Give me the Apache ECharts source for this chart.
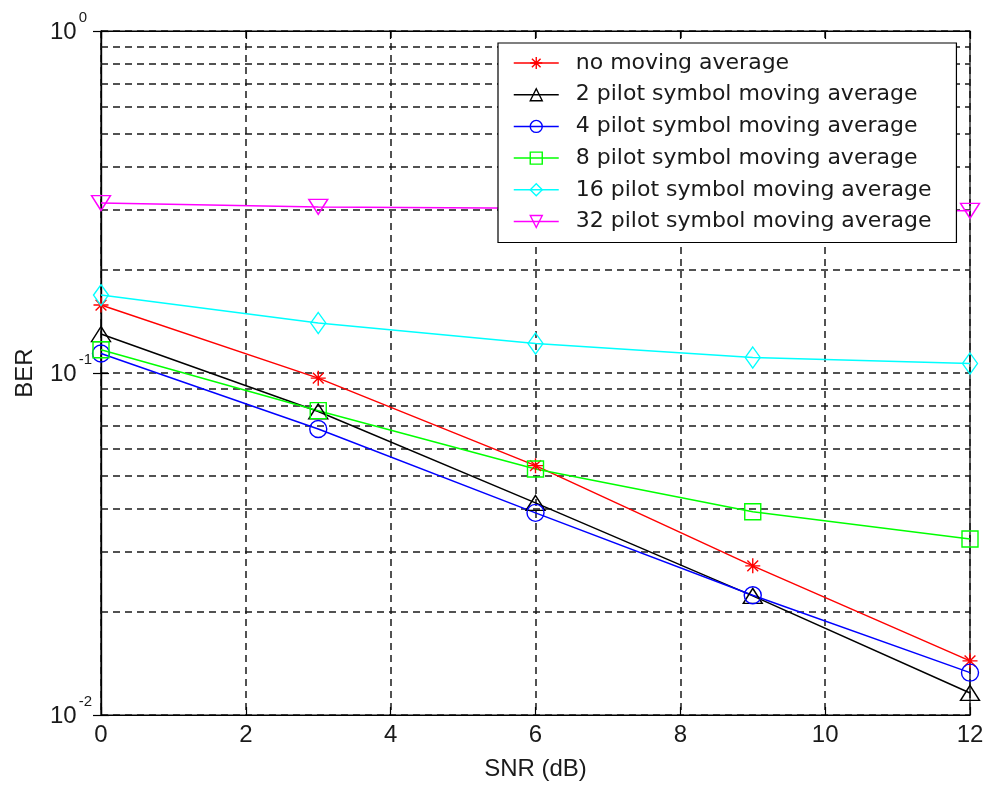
<!DOCTYPE html>
<html>
<head>
<meta charset="utf-8">
<script src="https://cdn.jsdelivr.net/npm/echarts@6/dist/echarts.min.js"></script>
<style>
  html, body { margin: 0; padding: 0; background: #fff; }
  #chart { width: 984px; height: 791px; }
</style>
</head>
<body>
<div id="chart"></div>
<script>
// SNR sample points (dB)
const snr = [0, 3, 6, 9, 12];

// Bit error rate for each channel-estimation variant
const berNoAverage = [0.158, 0.0966, 0.0536, 0.0273, 0.0144];
const berAvg2      = [0.130, 0.0772, 0.0417, 0.0223, 0.0116];
const berAvg4      = [0.114, 0.0686, 0.0390, 0.0224, 0.0133];
const berAvg8      = [0.117, 0.0776, 0.0524, 0.0393, 0.0327];
const berAvg16     = [0.169, 0.140, 0.122, 0.111, 0.1066];
const berAvg32     = [0.314, 0.306, 0.303, 0.300, 0.298];

const seriesNames = [
  'no moving average',
  '2 pilot symbol moving average',
  '4 pilot symbol moving average',
  '8 pilot symbol moving average',
  '16 pilot symbol moving average',
  '32 pilot symbol moving average'
];

// Intermediate decade grid values on the log axis
const minorGridValues = [0.02, 0.03, 0.04, 0.05, 0.06, 0.07, 0.08, 0.09,
                         0.2, 0.3, 0.4, 0.5, 0.6, 0.7, 0.8, 0.9];

const AXIS_FONT = 'Liberation Sans';
const LEGEND_FONT = 'DejaVu Sans';
const gridDash = { type: [7, 5], color: '#1a1a1a', width: 1.5, opacity: 1 };

const starPath = 'path://M0,-1L0,1M-1,0L1,0M-0.72,-0.72L0.72,0.72M-0.72,0.72L0.72,-0.72';
const downTriPath = 'path://M-1,-0.8L1,-0.8L0,0.8Z';

function pairs(ys) { return snr.map((x, i) => [x, ys[i]]); }

function makeSeries(name, ys, color, symbol, size) {
  return {
    name: name,
    type: 'line',
    data: pairs(ys),
    symbol: symbol,
    symbolSize: size,
    showAllSymbol: true,
    clip: false,
    z: 3,
    lineStyle: { color: color, width: 1.5 },
    itemStyle: { color: 'rgba(0,0,0,0)', borderColor: color, borderWidth: 1.4 },
    emphasis: { disabled: true }
  };
}

const chart = echarts.init(document.getElementById('chart'), null, { renderer: 'canvas' });

const option = {
  animation: false,
  backgroundColor: '#fff',
  grid: {
    left: 101, right: 14, top: 31, bottom: 76,
    show: true, borderColor: '#000', borderWidth: 1.2,
    outerBoundsMode: 'none'
  },
  legend: {
    data: seriesNames,
    orient: 'vertical',
    left: 498, top: 43,
    padding: [9, 25, 10, 15],
    itemWidth: 45, itemHeight: 15, itemGap: 9.7,
    backgroundColor: '#fff',
    borderColor: '#000', borderWidth: 1.2,
    itemStyle: { borderWidth: 1.4 },
    lineStyle: { width: 1.5 },
    textStyle: { fontFamily: LEGEND_FONT, fontSize: 22, color: '#1a1a1a', padding: [0, 0, 0, 12] },
    selectedMode: false,
    z: 10
  },
  xAxis: [{
    type: 'value', min: 0, max: 12, interval: 2,
    name: 'SNR (dB)', nameLocation: 'middle', nameGap: 42,
    nameTextStyle: { fontFamily: AXIS_FONT, fontSize: 24, color: '#1a1a1a' },
    axisLine: { show: true, lineStyle: { color: '#000', width: 1.2 } },
    axisTick: { show: true, inside: true, length: 8, lineStyle: { color: '#000', width: 1.2 } },
    axisLabel: { fontFamily: AXIS_FONT, fontSize: 24, color: '#1a1a1a', margin: 8 },
    splitLine: { show: true, lineStyle: gridDash }
  }, {
    type: 'value', min: 0, max: 12, interval: 2, position: 'top',
    axisLine: { show: true, lineStyle: { color: '#000', width: 1.2 } },
    axisTick: { show: true, inside: true, length: 8, lineStyle: { color: '#000', width: 1.2 } },
    axisLabel: { show: false },
    splitLine: { show: false }
  }],
  yAxis: [{
    type: 'log', logBase: 10, min: 0.01, max: 1,
    name: 'BER', nameLocation: 'middle', nameGap: 64,
    nameTextStyle: { fontFamily: AXIS_FONT, fontSize: 24, color: '#1a1a1a' },
    axisLine: { show: true, lineStyle: { color: '#000', width: 1.2 } },
    axisTick: { show: true, inside: true, length: 8, lineStyle: { color: '#000', width: 1.2 } },
    axisLabel: {
      align: 'left', margin: 51,
      formatter: function (v) {
        const e = Math.round(Math.log10(v));
        return '{b|10}{s|' + e + '}';
      },
      rich: {
        b: { fontFamily: AXIS_FONT, fontSize: 24, color: '#1a1a1a', lineHeight: 34, verticalAlign: 'bottom' },
        s: { fontFamily: AXIS_FONT, fontSize: 15, color: '#1a1a1a', verticalAlign: 'top', padding: [0, 0, 0, 2] }
      },
      padding: [0, 0, 8, 0]
    },
    splitLine: { show: true, lineStyle: gridDash }
  }, {
    type: 'log', logBase: 10, min: 0.01, max: 1, position: 'right',
    axisLine: { show: true, lineStyle: { color: '#000', width: 1.2 } },
    axisTick: { show: true, inside: true, length: 8, lineStyle: { color: '#000', width: 1.2 } },
    axisLabel: { show: false },
    splitLine: { show: false }
  }],
  series: [
    {
      name: 'grid',
      type: 'line',
      data: [],
      silent: true,
      markLine: {
        silent: true,
        symbol: 'none',
        z: 1,
        label: { show: false },
        lineStyle: gridDash,
        emphasis: { disabled: true },
        data: minorGridValues.map(v => ({ yAxis: v }))
      }
    },
    makeSeries(seriesNames[0], berNoAverage, '#ff0000', starPath, 15),
    makeSeries(seriesNames[1], berAvg2, '#000000', 'triangle', [19, 15]),
    makeSeries(seriesNames[2], berAvg4, '#0000ff', 'circle', 17),
    makeSeries(seriesNames[3], berAvg8, '#00ff00', 'rect', 16),
    makeSeries(seriesNames[4], berAvg16, '#00ffff', 'diamond', [15, 21]),
    makeSeries(seriesNames[5], berAvg32, '#ff00ff', downTriPath, [19, 15])
  ]
};

chart.setOption(option);
</script>
</body>
</html>
